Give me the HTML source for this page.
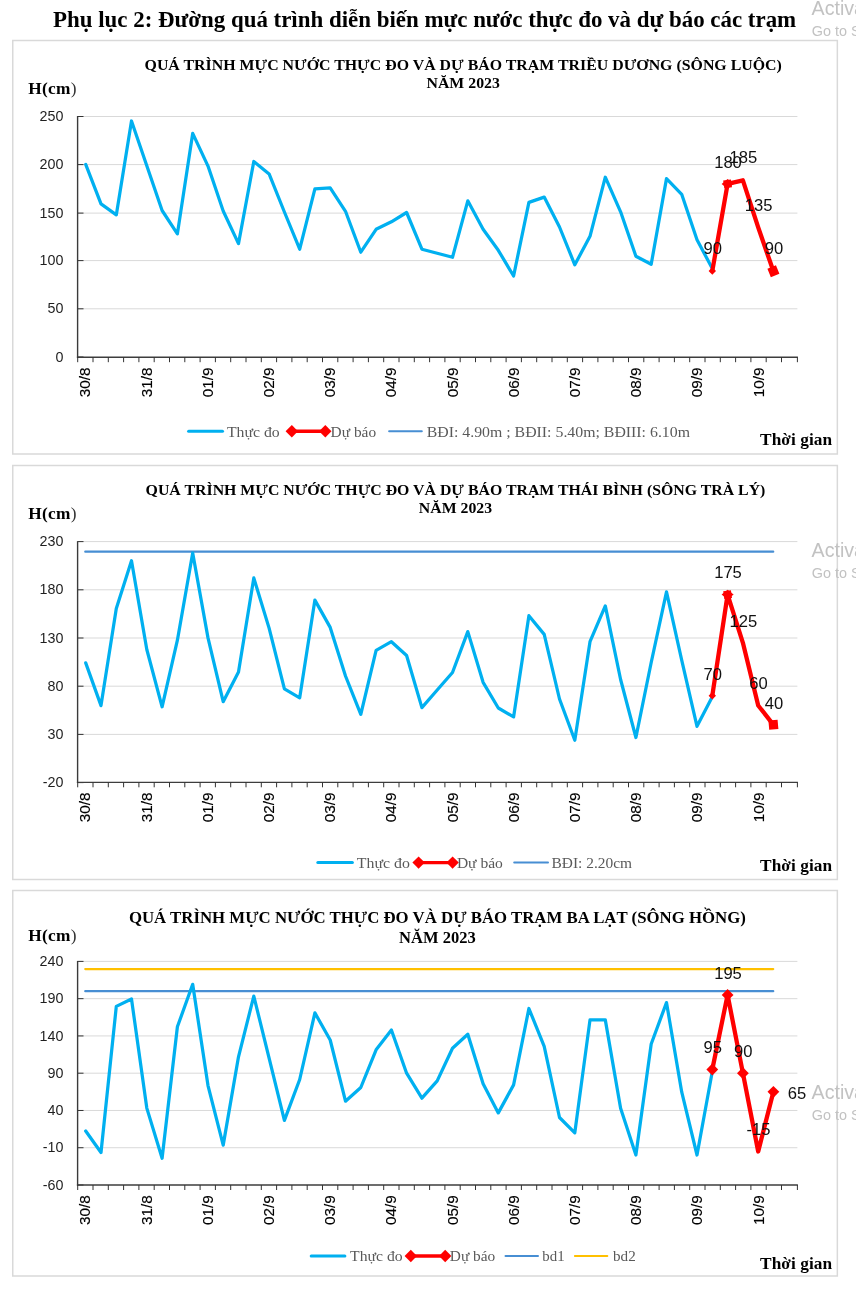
<!DOCTYPE html>
<html lang="vi"><head><meta charset="utf-8"><title>Phụ lục 2</title>
<style>html,body{margin:0;padding:0;background:#fff}#pg{position:relative;width:856px;height:1289px;overflow:hidden;background:#fff}svg{display:block}text{white-space:pre}.yl{font-family:"Liberation Sans", sans-serif;font-size:14.3px;fill:#1f1f1f;text-anchor:end}.dl{font-family:"Liberation Sans", sans-serif;font-size:16.6px;fill:#111;text-anchor:middle}.xl{font-family:"Liberation Sans", sans-serif;font-size:15.3px;fill:#000;stroke:#000;stroke-width:.15px}.tt{font-family:"Liberation Serif", serif;font-weight:bold;fill:#000;text-anchor:middle}.bd{font-family:"Liberation Serif", serif;font-weight:bold;fill:#000}.lg{font-family:"Liberation Serif", serif;font-size:15.2px;fill:#595959}.wm{font-family:"Liberation Sans", sans-serif;fill:#c2c2c2}</style></head><body><div id="pg">
<svg width="856" height="1289" viewBox="0 0 856 1289">
<rect x="0" y="0" width="856" height="1289" fill="#fff"/>
<text class="bd" x="53" y="26.6" font-size="22.4" textLength="743.2" lengthAdjust="spacingAndGlyphs">Phụ lục 2: Đường quá trình diễn biến mực nước thực đo và dự báo các trạm</text>
<rect x="12.75" y="40.50" width="824.6" height="413.50" fill="#fff" stroke="#d9d9d9" stroke-width="1.5"/>
<text class="tt" x="463.2" y="70.3" font-size="15.1" textLength="637.3" lengthAdjust="spacingAndGlyphs">QUÁ TRÌNH MỰC NƯỚC THỰC ĐO VÀ DỰ BÁO TRẠM TRIỀU DƯƠNG (SÔNG LUỘC)</text>
<text class="tt" x="463.2" y="88.0" font-size="15.1" textLength="73.3" lengthAdjust="spacingAndGlyphs">NĂM 2023</text>
<text class="bd" x="28.2" y="94.0" font-size="17.3" letter-spacing="0.3">H(cm<tspan font-weight="normal" fill="#333">)</tspan></text>
<text class="bd" x="760.1" y="444.7" font-size="17.3" textLength="72" lengthAdjust="spacing">Thời gian</text>
<line x1="78.0" y1="116.50" x2="797.4" y2="116.50" stroke="#d9d9d9" stroke-width="1"/>
<line x1="78.0" y1="164.60" x2="797.4" y2="164.60" stroke="#d9d9d9" stroke-width="1"/>
<line x1="78.0" y1="213.10" x2="797.4" y2="213.10" stroke="#d9d9d9" stroke-width="1"/>
<line x1="78.0" y1="260.60" x2="797.4" y2="260.60" stroke="#d9d9d9" stroke-width="1"/>
<line x1="78.0" y1="308.80" x2="797.4" y2="308.80" stroke="#d9d9d9" stroke-width="1"/>
<line x1="78.0" y1="116.50" x2="83.5" y2="116.50" stroke="#333" stroke-width="1"/>
<text class="yl" x="63.4" y="121.1">250</text>
<line x1="78.0" y1="164.60" x2="83.5" y2="164.60" stroke="#333" stroke-width="1"/>
<text class="yl" x="63.4" y="169.2">200</text>
<line x1="78.0" y1="213.10" x2="83.5" y2="213.10" stroke="#333" stroke-width="1"/>
<text class="yl" x="63.4" y="217.7">150</text>
<line x1="78.0" y1="260.60" x2="83.5" y2="260.60" stroke="#333" stroke-width="1"/>
<text class="yl" x="63.4" y="265.2">100</text>
<line x1="78.0" y1="308.80" x2="83.5" y2="308.80" stroke="#333" stroke-width="1"/>
<text class="yl" x="63.4" y="313.4">50</text>
<line x1="78.0" y1="357.00" x2="83.5" y2="357.00" stroke="#333" stroke-width="1"/>
<text class="yl" x="63.4" y="361.6">0</text>
<line x1="77.60" y1="116.00" x2="77.60" y2="357.80" stroke="#3a3a3a" stroke-width="1.4"/>
<line x1="76.90" y1="357.20" x2="797.90" y2="357.20" stroke="#3d3d3d" stroke-width="1.35"/>
<path d="M77.70 357.20v5.0M93.00 357.20v5.0M108.30 357.20v5.0M123.60 357.20v5.0M138.90 357.20v5.0M154.20 357.20v5.0M169.50 357.20v5.0M184.80 357.20v5.0M200.10 357.20v5.0M215.40 357.20v5.0M230.70 357.20v5.0M246.00 357.20v5.0M261.30 357.20v5.0M276.60 357.20v5.0M291.90 357.20v5.0M307.20 357.20v5.0M322.50 357.20v5.0M337.80 357.20v5.0M353.10 357.20v5.0M368.40 357.20v5.0M383.70 357.20v5.0M399.00 357.20v5.0M414.30 357.20v5.0M429.60 357.20v5.0M444.90 357.20v5.0M460.20 357.20v5.0M475.50 357.20v5.0M490.80 357.20v5.0M506.10 357.20v5.0M521.40 357.20v5.0M536.70 357.20v5.0M552.00 357.20v5.0M567.30 357.20v5.0M582.60 357.20v5.0M597.90 357.20v5.0M613.20 357.20v5.0M628.50 357.20v5.0M643.80 357.20v5.0M659.10 357.20v5.0M674.40 357.20v5.0M689.70 357.20v5.0M705.00 357.20v5.0M720.30 357.20v5.0M735.60 357.20v5.0M750.90 357.20v5.0M766.20 357.20v5.0M781.50 357.20v5.0M797.40 357.20v5.0" stroke="#333" stroke-width="1" fill="none"/>
<text class="xl" transform="translate(90.4 397.2) rotate(-90)">30/8</text>
<text class="xl" transform="translate(151.6 397.2) rotate(-90)">31/8</text>
<text class="xl" transform="translate(212.8 397.2) rotate(-90)">01/9</text>
<text class="xl" transform="translate(273.9 397.2) rotate(-90)">02/9</text>
<text class="xl" transform="translate(335.2 397.2) rotate(-90)">03/9</text>
<text class="xl" transform="translate(396.4 397.2) rotate(-90)">04/9</text>
<text class="xl" transform="translate(457.6 397.2) rotate(-90)">05/9</text>
<text class="xl" transform="translate(518.7 397.2) rotate(-90)">06/9</text>
<text class="xl" transform="translate(579.9 397.2) rotate(-90)">07/9</text>
<text class="xl" transform="translate(641.1 397.2) rotate(-90)">08/9</text>
<text class="xl" transform="translate(702.3 397.2) rotate(-90)">09/9</text>
<text class="xl" transform="translate(763.5 397.2) rotate(-90)">10/9</text>
<polyline points="85.7,164.4 101.0,203.9 116.3,214.9 131.5,121.0 146.8,165.8 162.1,210.5 177.4,233.8 192.7,133.4 208.0,166.1 223.2,211.0 238.5,243.6 253.8,161.5 269.1,173.9 284.4,212.0 299.7,249.2 314.9,188.9 330.2,187.9 345.5,211.3 360.8,252.2 376.1,229.3 391.4,221.8 406.6,212.5 421.9,249.2 437.2,253.3 452.5,257.3 467.8,200.8 483.1,229.3 498.3,250.3 513.6,276.0 528.9,202.4 544.2,197.1 559.5,227.0 574.8,264.8 590.0,236.3 605.3,177.2 620.6,211.8 635.9,256.2 651.2,264.3 666.5,178.6 681.7,194.3 697.0,239.8 712.3,268.5" fill="none" stroke="#00b0f0" stroke-width="3.25" stroke-linejoin="round" stroke-linecap="round"/>
<polyline points="712.3,271.0 727.6,183.9 742.9,180.3 758.2,227.3 773.4,271.3" fill="none" stroke="#ff0000" stroke-width="4.3" stroke-linejoin="round" stroke-linecap="round"/>
<path d="M712.3 267.3L716.0 271.0L712.3 274.7L708.6 271.0Z" fill="#ff0000"/>
<path d="M727.6 179.1L733.6 183.9L727.6 188.7L721.6 183.9Z" fill="#ff0000"/>
<rect x="723.7" y="180.0" width="7.8" height="7.8" fill="#ff0000" transform="rotate(-8 727.6 183.9)"/>
<rect x="768.8" y="266.7" width="9.2" height="9.2" fill="#ff0000" transform="rotate(-22 773.4 271.3)"/>
<text class="dl" x="712.7" y="254.1">90</text>
<text class="dl" x="728.0" y="167.5">180</text>
<text class="dl" x="743.3" y="162.7">185</text>
<text class="dl" x="758.6" y="210.8">135</text>
<text class="dl" x="773.9" y="254.1">90</text>
<line x1="188.6" y1="431.2" x2="222.5" y2="431.2" stroke="#00b0f0" stroke-width="3.0" stroke-linecap="round"/>
<text class="lg" x="227.0" y="436.6" textLength="52.7" lengthAdjust="spacingAndGlyphs">Thực đo</text>
<line x1="291.8" y1="431.2" x2="325.3" y2="431.2" stroke="#ff0000" stroke-width="3.4"/>
<path d="M291.8 425.0L298.0 431.2L291.8 437.4L285.6 431.2Z" fill="#ff0000"/>
<path d="M325.3 425.0L331.5 431.2L325.3 437.4L319.1 431.2Z" fill="#ff0000"/>
<text class="lg" x="330.6" y="436.6" textLength="45.5" lengthAdjust="spacingAndGlyphs">Dự báo</text>
<line x1="389.1" y1="431.2" x2="421.8" y2="431.2" stroke="#478ed3" stroke-width="2.0" stroke-linecap="round"/>
<text class="lg" x="426.7" y="436.6" textLength="263.3" lengthAdjust="spacingAndGlyphs">BĐI: 4.90m ; BĐII: 5.40m; BĐIII: 6.10m</text>
<rect x="12.75" y="465.50" width="824.6" height="414.00" fill="#fff" stroke="#d9d9d9" stroke-width="1.5"/>
<text class="tt" x="455.5" y="495.2" font-size="15.1" textLength="619.8" lengthAdjust="spacingAndGlyphs">QUÁ TRÌNH MỰC NƯỚC THỰC ĐO VÀ DỰ BÁO TRẠM THÁI BÌNH (SÔNG TRÀ LÝ)</text>
<text class="tt" x="455.5" y="512.9" font-size="15.1" textLength="73.3" lengthAdjust="spacingAndGlyphs">NĂM 2023</text>
<text class="bd" x="28.2" y="519.4" font-size="17.3" letter-spacing="0.3">H(cm<tspan font-weight="normal" fill="#333">)</tspan></text>
<text class="bd" x="760.1" y="870.7" font-size="17.3" textLength="72" lengthAdjust="spacing">Thời gian</text>
<line x1="78.0" y1="541.60" x2="797.4" y2="541.60" stroke="#d9d9d9" stroke-width="1"/>
<line x1="78.0" y1="589.80" x2="797.4" y2="589.80" stroke="#d9d9d9" stroke-width="1"/>
<line x1="78.0" y1="638.00" x2="797.4" y2="638.00" stroke="#d9d9d9" stroke-width="1"/>
<line x1="78.0" y1="686.20" x2="797.4" y2="686.20" stroke="#d9d9d9" stroke-width="1"/>
<line x1="78.0" y1="734.40" x2="797.4" y2="734.40" stroke="#d9d9d9" stroke-width="1"/>
<line x1="78.0" y1="541.60" x2="83.5" y2="541.60" stroke="#333" stroke-width="1"/>
<text class="yl" x="63.4" y="546.2">230</text>
<line x1="78.0" y1="589.80" x2="83.5" y2="589.80" stroke="#333" stroke-width="1"/>
<text class="yl" x="63.4" y="594.4">180</text>
<line x1="78.0" y1="638.00" x2="83.5" y2="638.00" stroke="#333" stroke-width="1"/>
<text class="yl" x="63.4" y="642.6">130</text>
<line x1="78.0" y1="686.20" x2="83.5" y2="686.20" stroke="#333" stroke-width="1"/>
<text class="yl" x="63.4" y="690.8">80</text>
<line x1="78.0" y1="734.40" x2="83.5" y2="734.40" stroke="#333" stroke-width="1"/>
<text class="yl" x="63.4" y="739.0">30</text>
<line x1="78.0" y1="782.60" x2="83.5" y2="782.60" stroke="#333" stroke-width="1"/>
<text class="yl" x="63.4" y="787.2">-20</text>
<line x1="77.60" y1="541.10" x2="77.60" y2="782.90" stroke="#3a3a3a" stroke-width="1.4"/>
<line x1="76.90" y1="782.30" x2="797.90" y2="782.30" stroke="#3d3d3d" stroke-width="1.35"/>
<path d="M77.70 782.30v5.0M93.00 782.30v5.0M108.30 782.30v5.0M123.60 782.30v5.0M138.90 782.30v5.0M154.20 782.30v5.0M169.50 782.30v5.0M184.80 782.30v5.0M200.10 782.30v5.0M215.40 782.30v5.0M230.70 782.30v5.0M246.00 782.30v5.0M261.30 782.30v5.0M276.60 782.30v5.0M291.90 782.30v5.0M307.20 782.30v5.0M322.50 782.30v5.0M337.80 782.30v5.0M353.10 782.30v5.0M368.40 782.30v5.0M383.70 782.30v5.0M399.00 782.30v5.0M414.30 782.30v5.0M429.60 782.30v5.0M444.90 782.30v5.0M460.20 782.30v5.0M475.50 782.30v5.0M490.80 782.30v5.0M506.10 782.30v5.0M521.40 782.30v5.0M536.70 782.30v5.0M552.00 782.30v5.0M567.30 782.30v5.0M582.60 782.30v5.0M597.90 782.30v5.0M613.20 782.30v5.0M628.50 782.30v5.0M643.80 782.30v5.0M659.10 782.30v5.0M674.40 782.30v5.0M689.70 782.30v5.0M705.00 782.30v5.0M720.30 782.30v5.0M735.60 782.30v5.0M750.90 782.30v5.0M766.20 782.30v5.0M781.50 782.30v5.0M797.40 782.30v5.0" stroke="#333" stroke-width="1" fill="none"/>
<text class="xl" transform="translate(90.4 822.3) rotate(-90)">30/8</text>
<text class="xl" transform="translate(151.6 822.3) rotate(-90)">31/8</text>
<text class="xl" transform="translate(212.8 822.3) rotate(-90)">01/9</text>
<text class="xl" transform="translate(273.9 822.3) rotate(-90)">02/9</text>
<text class="xl" transform="translate(335.2 822.3) rotate(-90)">03/9</text>
<text class="xl" transform="translate(396.4 822.3) rotate(-90)">04/9</text>
<text class="xl" transform="translate(457.6 822.3) rotate(-90)">05/9</text>
<text class="xl" transform="translate(518.7 822.3) rotate(-90)">06/9</text>
<text class="xl" transform="translate(579.9 822.3) rotate(-90)">07/9</text>
<text class="xl" transform="translate(641.1 822.3) rotate(-90)">08/9</text>
<text class="xl" transform="translate(702.3 822.3) rotate(-90)">09/9</text>
<text class="xl" transform="translate(763.5 822.3) rotate(-90)">10/9</text>
<line x1="85.3" y1="551.72" x2="773.2" y2="551.72" stroke="#478ed3" stroke-width="2.3" stroke-linecap="round"/>
<polyline points="85.7,662.9 101.0,705.6 116.3,608.6 131.5,560.7 146.8,649.5 162.1,706.8 177.4,640.2 192.7,553.0 208.0,637.9 223.2,701.7 238.5,672.1 253.8,577.9 269.1,628.1 284.4,688.9 299.7,697.8 314.9,600.1 330.2,627.4 345.5,676.0 360.8,714.3 376.1,650.3 391.4,641.7 406.6,655.5 421.9,707.6 437.2,690.0 452.5,672.5 467.8,631.6 483.1,682.3 498.3,708.0 513.6,716.9 528.9,615.7 544.2,634.4 559.5,699.0 574.8,740.3 590.0,641.7 605.3,605.9 620.6,679.5 635.9,737.5 651.2,662.5 666.5,591.9 681.7,660.1 697.0,726.3 712.3,696.8" fill="none" stroke="#00b0f0" stroke-width="3.25" stroke-linejoin="round" stroke-linecap="round"/>
<polyline points="712.3,695.8 727.6,594.6 742.9,642.8 758.2,705.5 773.4,724.8" fill="none" stroke="#ff0000" stroke-width="4.3" stroke-linejoin="round" stroke-linecap="round"/>
<path d="M712.3 692.1L716.0 695.8L712.3 699.5L708.6 695.8Z" fill="#ff0000"/>
<path d="M727.6 589.8L733.6 594.6L727.6 599.4L721.6 594.6Z" fill="#ff0000"/>
<rect x="723.7" y="590.7" width="7.8" height="7.8" fill="#ff0000" transform="rotate(-8 727.6 594.6)"/>
<rect x="768.8" y="720.2" width="9.2" height="9.2" fill="#ff0000" transform="rotate(-5 773.4 724.8)"/>
<text class="dl" x="712.7" y="679.5">70</text>
<text class="dl" x="728.0" y="578.3">175</text>
<text class="dl" x="743.3" y="626.5">125</text>
<text class="dl" x="758.6" y="689.2">60</text>
<text class="dl" x="773.9" y="708.5">40</text>
<line x1="317.8" y1="862.6" x2="352.4" y2="862.6" stroke="#00b0f0" stroke-width="3.0" stroke-linecap="round"/>
<text class="lg" x="356.8" y="868.0" textLength="53.0" lengthAdjust="spacingAndGlyphs">Thực đo</text>
<line x1="418.6" y1="862.6" x2="452.6" y2="862.6" stroke="#ff0000" stroke-width="3.4"/>
<path d="M418.6 856.4L424.8 862.6L418.6 868.8L412.4 862.6Z" fill="#ff0000"/>
<path d="M452.6 856.4L458.8 862.6L452.6 868.8L446.4 862.6Z" fill="#ff0000"/>
<text class="lg" x="456.9" y="868.0" textLength="46.0" lengthAdjust="spacingAndGlyphs">Dự báo</text>
<line x1="514.2" y1="862.6" x2="548.0" y2="862.6" stroke="#478ed3" stroke-width="2.0" stroke-linecap="round"/>
<text class="lg" x="551.5" y="868.0" textLength="80.5" lengthAdjust="spacingAndGlyphs">BĐI: 2.20cm</text>
<rect x="12.75" y="890.50" width="824.6" height="385.50" fill="#fff" stroke="#d9d9d9" stroke-width="1.5"/>
<text class="tt" x="437.4" y="923.2" font-size="15.7" textLength="617.0" lengthAdjust="spacingAndGlyphs">QUÁ TRÌNH MỰC NƯỚC THỰC ĐO VÀ DỰ BÁO TRẠM BA LẠT (SÔNG HỒNG)</text>
<text class="tt" x="437.4" y="942.9" font-size="15.7" textLength="76.6" lengthAdjust="spacingAndGlyphs">NĂM 2023</text>
<text class="bd" x="28.2" y="941.2" font-size="17.3" letter-spacing="0.3">H(cm<tspan font-weight="normal" fill="#333">)</tspan></text>
<text class="bd" x="760.1" y="1268.5" font-size="17.3" textLength="72" lengthAdjust="spacing">Thời gian</text>
<line x1="78.0" y1="961.40" x2="797.4" y2="961.40" stroke="#d9d9d9" stroke-width="1"/>
<line x1="78.0" y1="998.67" x2="797.4" y2="998.67" stroke="#d9d9d9" stroke-width="1"/>
<line x1="78.0" y1="1035.93" x2="797.4" y2="1035.93" stroke="#d9d9d9" stroke-width="1"/>
<line x1="78.0" y1="1073.20" x2="797.4" y2="1073.20" stroke="#d9d9d9" stroke-width="1"/>
<line x1="78.0" y1="1110.47" x2="797.4" y2="1110.47" stroke="#d9d9d9" stroke-width="1"/>
<line x1="78.0" y1="1147.73" x2="797.4" y2="1147.73" stroke="#d9d9d9" stroke-width="1"/>
<line x1="78.0" y1="961.40" x2="83.5" y2="961.40" stroke="#333" stroke-width="1"/>
<text class="yl" x="63.4" y="966.0">240</text>
<line x1="78.0" y1="998.67" x2="83.5" y2="998.67" stroke="#333" stroke-width="1"/>
<text class="yl" x="63.4" y="1003.3">190</text>
<line x1="78.0" y1="1035.93" x2="83.5" y2="1035.93" stroke="#333" stroke-width="1"/>
<text class="yl" x="63.4" y="1040.5">140</text>
<line x1="78.0" y1="1073.20" x2="83.5" y2="1073.20" stroke="#333" stroke-width="1"/>
<text class="yl" x="63.4" y="1077.8">90</text>
<line x1="78.0" y1="1110.47" x2="83.5" y2="1110.47" stroke="#333" stroke-width="1"/>
<text class="yl" x="63.4" y="1115.1">40</text>
<line x1="78.0" y1="1147.73" x2="83.5" y2="1147.73" stroke="#333" stroke-width="1"/>
<text class="yl" x="63.4" y="1152.3">-10</text>
<line x1="78.0" y1="1185.00" x2="83.5" y2="1185.00" stroke="#333" stroke-width="1"/>
<text class="yl" x="63.4" y="1189.6">-60</text>
<line x1="77.60" y1="960.90" x2="77.60" y2="1185.60" stroke="#3a3a3a" stroke-width="1.4"/>
<line x1="76.90" y1="1185.00" x2="797.90" y2="1185.00" stroke="#3d3d3d" stroke-width="1.35"/>
<path d="M77.70 1185.00v5.0M93.00 1185.00v5.0M108.30 1185.00v5.0M123.60 1185.00v5.0M138.90 1185.00v5.0M154.20 1185.00v5.0M169.50 1185.00v5.0M184.80 1185.00v5.0M200.10 1185.00v5.0M215.40 1185.00v5.0M230.70 1185.00v5.0M246.00 1185.00v5.0M261.30 1185.00v5.0M276.60 1185.00v5.0M291.90 1185.00v5.0M307.20 1185.00v5.0M322.50 1185.00v5.0M337.80 1185.00v5.0M353.10 1185.00v5.0M368.40 1185.00v5.0M383.70 1185.00v5.0M399.00 1185.00v5.0M414.30 1185.00v5.0M429.60 1185.00v5.0M444.90 1185.00v5.0M460.20 1185.00v5.0M475.50 1185.00v5.0M490.80 1185.00v5.0M506.10 1185.00v5.0M521.40 1185.00v5.0M536.70 1185.00v5.0M552.00 1185.00v5.0M567.30 1185.00v5.0M582.60 1185.00v5.0M597.90 1185.00v5.0M613.20 1185.00v5.0M628.50 1185.00v5.0M643.80 1185.00v5.0M659.10 1185.00v5.0M674.40 1185.00v5.0M689.70 1185.00v5.0M705.00 1185.00v5.0M720.30 1185.00v5.0M735.60 1185.00v5.0M750.90 1185.00v5.0M766.20 1185.00v5.0M781.50 1185.00v5.0M797.40 1185.00v5.0" stroke="#333" stroke-width="1" fill="none"/>
<text class="xl" transform="translate(90.4 1225.0) rotate(-90)">30/8</text>
<text class="xl" transform="translate(151.6 1225.0) rotate(-90)">31/8</text>
<text class="xl" transform="translate(212.8 1225.0) rotate(-90)">01/9</text>
<text class="xl" transform="translate(273.9 1225.0) rotate(-90)">02/9</text>
<text class="xl" transform="translate(335.2 1225.0) rotate(-90)">03/9</text>
<text class="xl" transform="translate(396.4 1225.0) rotate(-90)">04/9</text>
<text class="xl" transform="translate(457.6 1225.0) rotate(-90)">05/9</text>
<text class="xl" transform="translate(518.7 1225.0) rotate(-90)">06/9</text>
<text class="xl" transform="translate(579.9 1225.0) rotate(-90)">07/9</text>
<text class="xl" transform="translate(641.1 1225.0) rotate(-90)">08/9</text>
<text class="xl" transform="translate(702.3 1225.0) rotate(-90)">09/9</text>
<text class="xl" transform="translate(763.5 1225.0) rotate(-90)">10/9</text>
<line x1="85.3" y1="969.08" x2="773.2" y2="969.08" stroke="#ffc000" stroke-width="2.3" stroke-linecap="round"/>
<line x1="85.3" y1="991.14" x2="773.2" y2="991.14" stroke="#478ed3" stroke-width="2.3" stroke-linecap="round"/>
<polyline points="85.7,1131.0 101.0,1152.5 116.3,1006.4 131.5,999.0 146.8,1108.1 162.1,1158.3 177.4,1026.8 192.7,984.3 208.0,1085.6 223.2,1145.1 238.5,1056.8 253.8,996.1 269.1,1058.2 284.4,1120.4 299.7,1079.5 314.9,1012.9 330.2,1040.0 345.5,1101.2 360.8,1087.5 376.1,1049.8 391.4,1030.0 406.6,1073.2 421.9,1098.2 437.2,1080.9 452.5,1048.2 467.8,1034.2 483.1,1083.7 498.3,1112.9 513.6,1084.9 528.9,1008.5 544.2,1046.3 559.5,1117.5 574.8,1132.8 590.0,1019.9 605.3,1019.9 620.6,1108.2 635.9,1155.0 651.2,1044.0 666.5,1002.6 681.7,1091.9 697.0,1155.0 712.3,1071.5" fill="none" stroke="#00b0f0" stroke-width="3.25" stroke-linejoin="round" stroke-linecap="round"/>
<polyline points="712.3,1069.5 727.6,994.9 742.9,1073.2 758.2,1151.5 773.4,1091.8" fill="none" stroke="#ff0000" stroke-width="4.3" stroke-linejoin="round" stroke-linecap="round"/>
<path d="M712.3 1063.6L718.2 1069.5L712.3 1075.4L706.4 1069.5Z" fill="#ff0000"/>
<path d="M727.6 989.0L733.5 994.9L727.6 1000.8L721.7 994.9Z" fill="#ff0000"/>
<path d="M742.9 1067.3L748.8 1073.2L742.9 1079.1L737.0 1073.2Z" fill="#ff0000"/>
<path d="M773.4 1085.9L779.3 1091.8L773.4 1097.7L767.5 1091.8Z" fill="#ff0000"/>
<text class="dl" x="712.7" y="1053.2">95</text>
<text class="dl" x="728.0" y="978.6">195</text>
<text class="dl" x="743.3" y="1056.9">90</text>
<text class="dl" x="758.6" y="1135.2">-15</text>
<text class="dl" x="796.9" y="1098.8">65</text>
<line x1="311.2" y1="1256.0" x2="344.9" y2="1256.0" stroke="#00b0f0" stroke-width="3.0" stroke-linecap="round"/>
<text class="lg" x="350.1" y="1261.4" textLength="52.5" lengthAdjust="spacingAndGlyphs">Thực đo</text>
<line x1="410.8" y1="1256.0" x2="445.2" y2="1256.0" stroke="#ff0000" stroke-width="3.4"/>
<path d="M410.8 1249.8L417.0 1256.0L410.8 1262.2L404.6 1256.0Z" fill="#ff0000"/>
<path d="M445.2 1249.8L451.4 1256.0L445.2 1262.2L439.0 1256.0Z" fill="#ff0000"/>
<text class="lg" x="449.8" y="1261.4" textLength="45.5" lengthAdjust="spacingAndGlyphs">Dự báo</text>
<line x1="505.5" y1="1256.0" x2="538.0" y2="1256.0" stroke="#478ed3" stroke-width="2.0" stroke-linecap="round"/>
<text class="lg" x="542.3" y="1261.4" textLength="22.3" lengthAdjust="spacingAndGlyphs">bd1</text>
<line x1="574.9" y1="1256.0" x2="607.3" y2="1256.0" stroke="#ffc000" stroke-width="2.0" stroke-linecap="round"/>
<text class="lg" x="613.0" y="1261.4" textLength="22.7" lengthAdjust="spacingAndGlyphs">bd2</text>
<text class="wm" x="811.6" y="15.3" font-size="19.6">Activate Windows</text>
<text class="wm" x="811.8" y="35.6" font-size="14.4">Go to Settings to activate Windows.</text>
<text class="wm" x="811.6" y="557.0" font-size="19.6">Activate Windows</text>
<text class="wm" x="811.8" y="577.6" font-size="14.4">Go to Settings to activate Windows.</text>
<text class="wm" x="811.6" y="1099.0" font-size="19.6">Activate Windows</text>
<text class="wm" x="811.8" y="1119.8" font-size="14.4">Go to Settings to activate Windows.</text>
</svg></div></body></html>
